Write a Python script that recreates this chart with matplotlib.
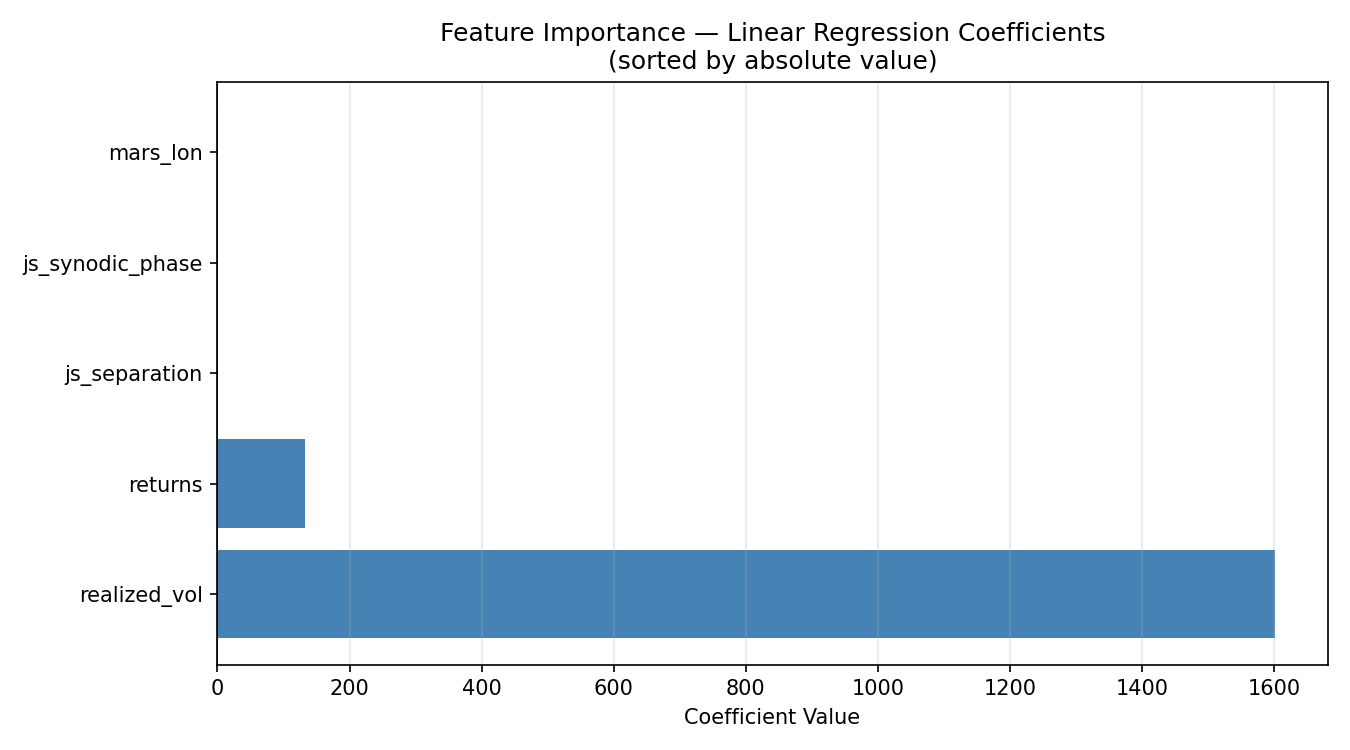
import matplotlib
matplotlib.use("Agg")
import matplotlib.pyplot as plt

features = ["realized_vol", "returns", "js_separation", "js_synodic_phase", "mars_lon"]
coefs = [1601.0, 133.0, 0.4, 0.2, 0.1]

fig, ax = plt.subplots(figsize=(9, 5), dpi=150)
ax.barh(features, coefs, color="steelblue")
ax.axvline(0, color="black", linewidth=0.8)
ax.grid(axis="x", alpha=0.3)
ax.set_xlabel("Coefficient Value")
ax.set_title("Feature Importance — Linear Regression Coefficients\n(sorted by absolute value)")
plt.tight_layout()
plt.savefig("out.png", dpi=150)
